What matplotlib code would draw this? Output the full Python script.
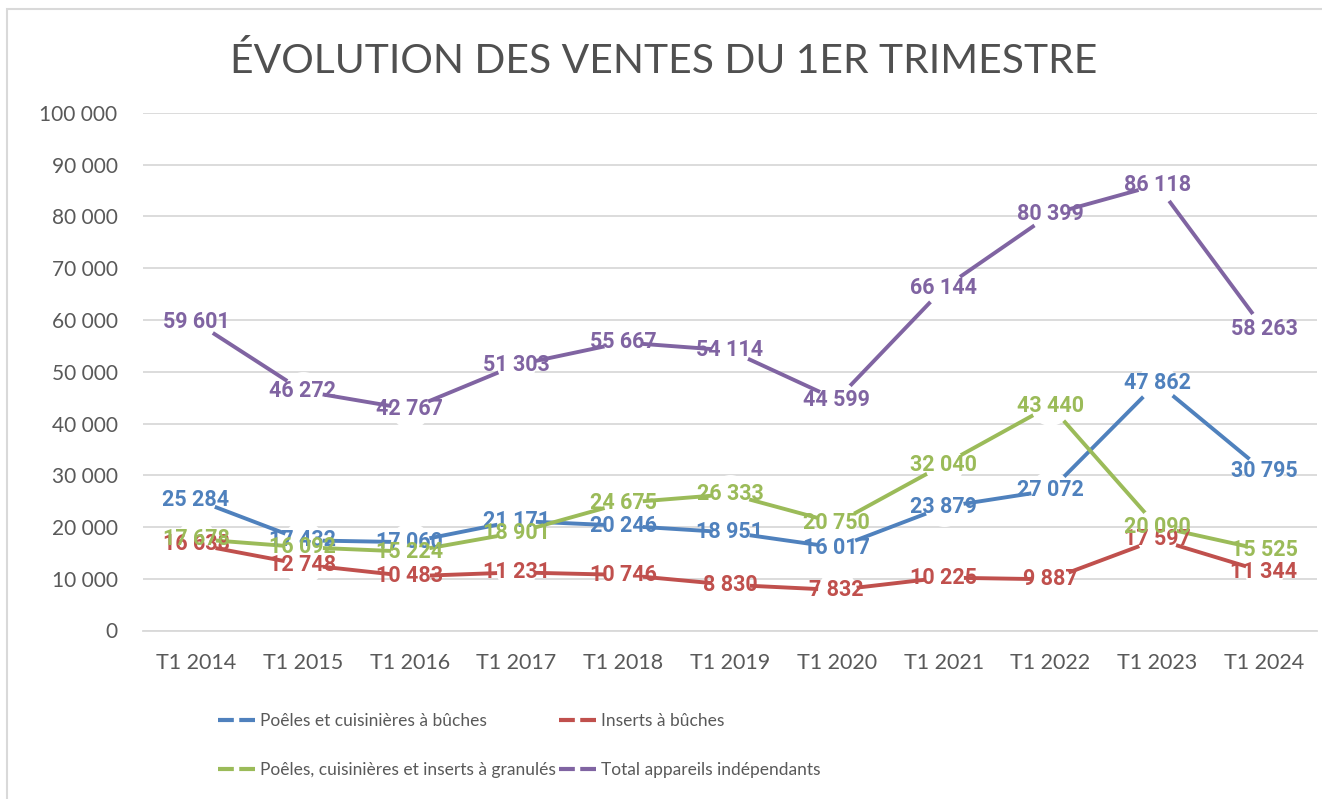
import matplotlib
matplotlib.use("Agg")
import matplotlib.pyplot as plt
from matplotlib.ticker import FuncFormatter
from matplotlib.patches import Rectangle
from matplotlib.lines import Line2D

categories = ["T1 2014", "T1 2015", "T1 2016", "T1 2017", "T1 2018", "T1 2019",
              "T1 2020", "T1 2021", "T1 2022", "T1 2023", "T1 2024"]
buches = [25284, 17432, 17060, 21171, 20246, 18951, 16017, 23879, 27072, 47862, 30795]
inserts = [16638, 12748, 10483, 11231, 10746, 8830, 7832, 10225, 9887, 17597, 11344]
granules = [17678, 16092, 15224, 18901, 24675, 26333, 20750, 32040, 43440, 20090, 15525]
total = [59601, 46272, 42767, 51303, 55667, 54114, 44599, 66144, 80399, 86118, 58263]

series = [
    ("Poêles et cuisinières à bûches", buches, "#4F81BD"),
    ("Inserts à bûches", inserts, "#C0504D"),
    ("Poêles, cuisinières et inserts à granulés", granules, "#9BBB59"),
    ("Total appareils indépendants", total, "#8064A2"),
]

plt.rcParams['font.family'] = ['Lato', 'DejaVu Sans']

W, H = 1322, 799
fig = plt.figure(figsize=(W / 100, H / 100), dpi=100)
fig.patches.append(Rectangle((7 / W, -0.01), 1.0, 1 - 9 / H + 0.01, transform=fig.transFigure,
                             fill=False, edgecolor="#D9D9D9", linewidth=1.5))
ax = fig.add_axes([142.6 / W, 1 - 630.5 / H, 1174.8 / W, 517.5 / H])

x = list(range(len(categories)))
for name, vals, col in series:
    ax.plot(x, vals, color=col, linewidth=2.8, zorder=2, label=name,
            marker="o", markersize=28, markerfacecolor="white",
            markeredgecolor="none", solid_capstyle="butt")
for name, vals, col in series:
    for xi, v in zip(x, vals):
        s = f"{v:,}".replace(",", " ")
        ax.text(xi, v, s, color=col, fontsize=15.5, fontweight="bold",
                family=['Roboto', 'Lato', 'DejaVu Sans'],
                ha="center", va="center", zorder=5)

ax.set_xlim(-0.5, len(categories) - 0.5)
ax.set_ylim(0, 100000)
ax.set_yticks(range(0, 100001, 10000))
ax.yaxis.set_major_formatter(FuncFormatter(lambda v, p: f"{int(v):,}".replace(",", " ")))
ax.set_xticks(x)
ax.set_xticklabels(categories)
ax.tick_params(axis="y", length=0, labelsize=15, colors="#595959", pad=18)
ax.tick_params(axis="x", length=0, labelsize=15.5, colors="#595959", pad=16)
ax.grid(axis="y", color="#D9D9D9", linewidth=1.3, zorder=0)
ax.set_axisbelow(True)
for sp in ["top", "right", "left"]:
    ax.spines[sp].set_visible(False)
ax.spines["bottom"].set_color("#D9D9D9")
ax.spines["bottom"].set_linewidth(1.3)
ax.spines["bottom"].set_zorder(0)

fig.text(664 / W, 1 - 61 / H, "ÉVOLUTION DES VENTES DU 1ER TRIMESTRE", ha="center", va="center",
         fontsize=29.3, color="#505050", fontweight="normal")

order = [0, 2, 1, 3]
leg_handles = [Line2D([0], [0], color=series[i][2], linewidth=3, linestyle=(0, (3.8, 1.3)),
                      dash_capstyle="butt")
               for i in order]
leg_labels = [series[i][0] for i in order]
leg = fig.legend(leg_handles, leg_labels, ncol=2, loc="upper left",
                 bbox_to_anchor=(218 / W, 1 - 713 / H), frameon=False,
                 prop={'family': ['Lato'], 'size': 12.5},
                 labelcolor="#595959", handlelength=2.15, handletextpad=0.25,
                 columnspacing=0.2, labelspacing=1.9, borderpad=0, borderaxespad=0)

fig.savefig("out.png", dpi=100)
